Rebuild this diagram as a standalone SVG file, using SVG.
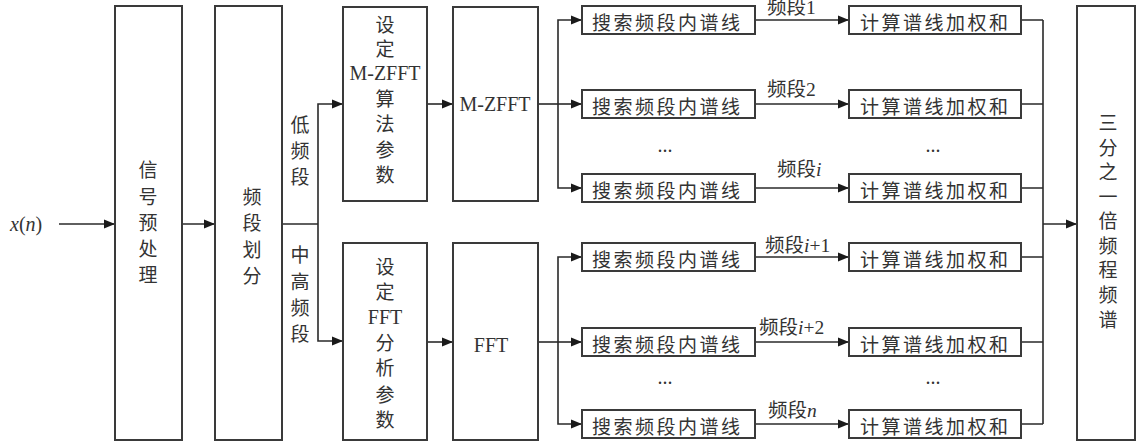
<svg xmlns="http://www.w3.org/2000/svg" width="1138" height="443" viewBox="0 0 1138 443">
<style>
.box{fill:#fff;stroke:#3a3a3a;stroke-width:2}
.ln{fill:none;stroke:#2a2a2a;stroke-width:1.6}
.arr{marker-end:url(#ah)}
text{font-family:"Liberation Serif","Noto Sans CJK SC",serif;fill:#333;font-size:20px}
.cj{font-family:"Noto Sans CJK SC","Liberation Serif",sans-serif;font-size:19px}
.lb{font-family:"Liberation Serif","Noto Sans CJK SC",serif;font-size:19.5px}
.it{font-style:italic}
</style>
<defs>
<marker id="ah" markerUnits="userSpaceOnUse" markerWidth="12" markerHeight="10" refX="11" refY="5" orient="auto">
<path d="M0,0.5 L11,5 L0,9.5 z" fill="#1a1a1a"/>
</marker>
</defs>
<g id="connectors">
<path class="ln arr" d="M59,224 H115"/>
<path class="ln arr" d="M182,224 H215"/>
<path class="ln" d="M282,224 H318"/>
<path class="ln arr" d="M318,224 V104 H343"/>
<path class="ln arr" d="M318,224 V341 H343"/>
<path class="ln arr" d="M427,104 H453"/>
<path class="ln arr" d="M427,342 H453"/>
<path class="ln" d="M538,104 H558"/>
<path class="ln arr" d="M558,104 V20 H582"/>
<path class="ln arr" d="M558,104 H582"/>
<path class="ln arr" d="M558,104 V188 H582"/>
<path class="ln" d="M538,342 H558"/>
<path class="ln arr" d="M558,342 V257 H582"/>
<path class="ln arr" d="M558,342 H582"/>
<path class="ln arr" d="M558,342 V424 H582"/>
<path class="ln arr" d="M755,20 H849"/>
<path class="ln arr" d="M755,104 H849"/>
<path class="ln arr" d="M755,188 H849"/>
<path class="ln arr" d="M755,257 H849"/>
<path class="ln arr" d="M755,342 H849"/>
<path class="ln arr" d="M755,424 H849"/>
<path class="ln" d="M1021,20 H1043 M1021,104 H1043 M1021,188 H1043 M1021,257 H1043 M1021,342 H1043 M1021,424 H1043 M1043,20 V424"/>
<path class="ln arr" d="M1043,224 H1077"/>
</g>
<g id="input">
<text x="10" y="231"><tspan class="it">x</tspan>(<tspan class="it">n</tspan>)</text>
</g>
<g id="preprocess">
<rect class="box" x="115" y="6" width="67" height="434"/>
<text class="cj" text-anchor="middle"><tspan x="148" y="177">信</tspan><tspan x="148" y="204">号</tspan><tspan x="148" y="230">预</tspan><tspan x="148" y="256">处</tspan><tspan x="148" y="282">理</tspan></text>
</g>
<g id="split">
<rect class="box" x="215" y="6" width="67" height="434"/>
<text class="cj" text-anchor="middle"><tspan x="252" y="204">频</tspan><tspan x="252" y="230">段</tspan><tspan x="252" y="257">划</tspan><tspan x="252" y="283">分</tspan></text>
</g>
<g id="band-labels">
<text class="cj" text-anchor="middle"><tspan x="300" y="132">低</tspan><tspan x="300" y="158">频</tspan><tspan x="300" y="184">段</tspan></text>
<text class="cj" text-anchor="middle"><tspan x="300" y="262">中</tspan><tspan x="300" y="289">高</tspan><tspan x="300" y="315">频</tspan><tspan x="300" y="341">段</tspan></text>
</g>
<g id="set-mzfft">
<rect class="box" x="343" y="7" width="84" height="194"/>
<text class="cj" text-anchor="middle"><tspan x="385" y="32">设</tspan><tspan x="385" y="56">定</tspan></text>
<text x="385" y="80" text-anchor="middle">M-ZFFT</text>
<text class="cj" text-anchor="middle"><tspan x="385" y="106">算</tspan><tspan x="385" y="131">法</tspan><tspan x="385" y="157">参</tspan><tspan x="385" y="182">数</tspan></text>
</g>
<g id="set-fft">
<rect class="box" x="343" y="243" width="84" height="197"/>
<text class="cj" text-anchor="middle"><tspan x="385" y="274">设</tspan><tspan x="385" y="299">定</tspan></text>
<text x="385" y="324" text-anchor="middle">FFT</text>
<text class="cj" text-anchor="middle"><tspan x="385" y="350">分</tspan><tspan x="385" y="375">析</tspan><tspan x="385" y="402">参</tspan><tspan x="385" y="427">数</tspan></text>
</g>
<g id="mzfft">
<rect class="box" x="453" y="7" width="85" height="194"/>
<text x="495" y="111" text-anchor="middle">M-ZFFT</text>
</g>
<g id="fft">
<rect class="box" x="453" y="243" width="85" height="197"/>
<text x="491" y="352" text-anchor="middle">FFT</text>
</g>
<g id="search">
<rect class="box" x="582" y="6" width="173" height="28"/>
<rect class="box" x="582" y="90" width="173" height="28"/>
<rect class="box" x="582" y="174" width="173" height="28"/>
<rect class="box" x="582" y="243" width="173" height="28"/>
<rect class="box" x="582" y="328" width="173" height="28"/>
<rect class="box" x="582" y="410" width="173" height="28"/>
<text class="cj" x="666" y="30" text-anchor="middle" textLength="148">搜索频段内谱线</text>
<text class="cj" x="666" y="114" text-anchor="middle" textLength="148">搜索频段内谱线</text>
<text class="cj" x="666" y="198" text-anchor="middle" textLength="148">搜索频段内谱线</text>
<text class="cj" x="666" y="267" text-anchor="middle" textLength="148">搜索频段内谱线</text>
<text class="cj" x="666" y="352" text-anchor="middle" textLength="148">搜索频段内谱线</text>
<text class="cj" x="666" y="434" text-anchor="middle" textLength="148">搜索频段内谱线</text>
<text x="665" y="152" text-anchor="middle" font-size="16">...</text>
<text x="665" y="384" text-anchor="middle" font-size="16">...</text>
</g>
<g id="band-names">
<text class="lb" x="767" y="14">频段1</text>
<text class="lb" x="767" y="96">频段2</text>
<text class="lb" x="777" y="176">频段<tspan class="it">i</tspan></text>
<text class="lb" x="765" y="252">频段<tspan class="it">i</tspan>+1</text>
<text class="lb" x="759" y="334">频段<tspan class="it">i</tspan>+2</text>
<text class="lb" x="768" y="417">频段<tspan class="it">n</tspan></text>
</g>
<g id="compute">
<rect class="box" x="849" y="6" width="172" height="28"/>
<rect class="box" x="849" y="90" width="172" height="28"/>
<rect class="box" x="849" y="174" width="172" height="28"/>
<rect class="box" x="849" y="243" width="172" height="28"/>
<rect class="box" x="849" y="328" width="172" height="28"/>
<rect class="box" x="849" y="410" width="172" height="28"/>
<text class="cj" x="934" y="30" text-anchor="middle" textLength="148">计算谱线加权和</text>
<text class="cj" x="934" y="114" text-anchor="middle" textLength="148">计算谱线加权和</text>
<text class="cj" x="934" y="198" text-anchor="middle" textLength="148">计算谱线加权和</text>
<text class="cj" x="934" y="267" text-anchor="middle" textLength="148">计算谱线加权和</text>
<text class="cj" x="934" y="352" text-anchor="middle" textLength="148">计算谱线加权和</text>
<text class="cj" x="934" y="434" text-anchor="middle" textLength="148">计算谱线加权和</text>
<text x="933" y="152" text-anchor="middle" font-size="16">...</text>
<text x="933" y="384" text-anchor="middle" font-size="16">...</text>
</g>
<g id="octave-spectrum">
<rect class="box" x="1077" y="6" width="58" height="434"/>
<text class="cj" text-anchor="middle"><tspan x="1108" y="130">三</tspan><tspan x="1108" y="155">分</tspan><tspan x="1108" y="179">之</tspan><tspan x="1108" y="204">一</tspan><tspan x="1108" y="228">倍</tspan><tspan x="1108" y="253">频</tspan><tspan x="1108" y="277">程</tspan><tspan x="1108" y="302">频</tspan><tspan x="1108" y="327">谱</tspan></text>
</g>
</svg>
